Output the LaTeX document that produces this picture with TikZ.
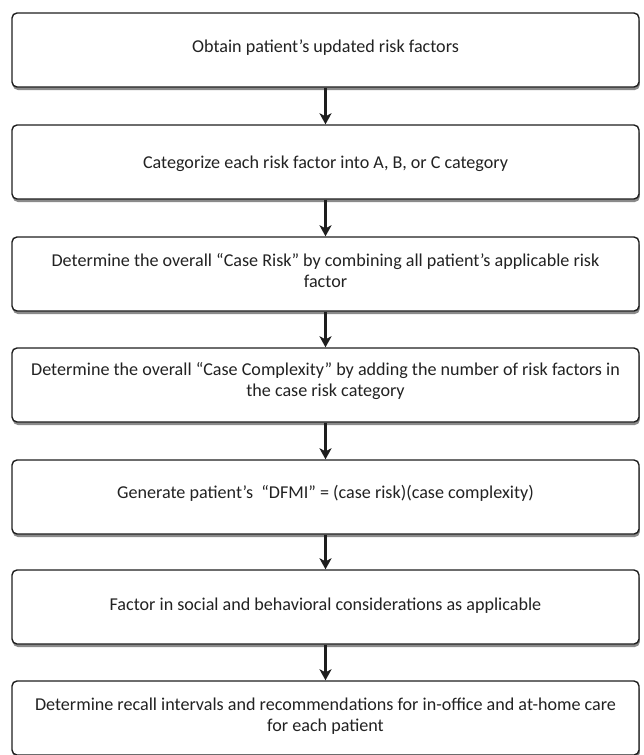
\documentclass[tikz,border=0pt]{standalone}
\usepackage{fontspec}
\setmainfont{Carlito}
\usetikzlibrary{arrows.meta,shadows}
\definecolor{txt}{HTML}{222222}
\definecolor{edge}{HTML}{1E1E1E}
\definecolor{shade}{HTML}{8A8A8A}
\begin{document}
\begin{tikzpicture}[x=1pt,y=-1pt,
  box/.style={draw=edge, line width=1.4pt, rounded corners=5pt, fill=white,
    minimum width=627pt, minimum height=74pt, inner sep=0pt,
    drop shadow={shadow xshift=0.8pt, shadow yshift=-3pt, fill=shade, opacity=1}},
  lbl/.style={text=txt, font=\fontsize{18.1}{21.5}\selectfont, align=center, inner sep=0pt},
  arr/.style={draw=edge, line width=2.6pt, -{Stealth[length=11pt,width=12pt,inset=3pt]}}]
\useasboundingbox (0,0) rectangle (643,755);
\node[box] (b1) at (325.5,50) {};
\node[box] (b2) at (325.5,162) {};
\node[box] (b3) at (325.5,274) {};
\node[box] (b4) at (325.5,385) {};
\node[box] (b5) at (325.5,497) {};
\node[box] (b6) at (325.5,607) {};
\node[box] (b7) at (325.5,718) {};
\node[lbl] (t1) at (325.5,47.5) {Obtain patient’s updated risk factors};
\node[lbl] (t2) at (325.5,164) {Categorize each risk factor into A, B, or C category};
\node[lbl] (t3) at (325.5,270.5) {Determine the overall “Case Risk” by combining all patient’s applicable risk\\factor};
\node[lbl] (t4) at (325.5,381) {Determine the overall “Case Complexity” by adding the number of risk factors in\\the case risk category};
\node[lbl] (t5) at (325.5,493.5) {Generate patient’s\ \ “DFMI” = (case risk)(case complexity)};
\node[lbl] (t6) at (325.5,605.5) {Factor in social and behavioral considerations as applicable};
\node[lbl] (t7) at (325.5,716) {Determine recall intervals and recommendations for in-office and at-home care\\for each patient};
\draw[arr] (b1.south) -- (b2.north);
\draw[arr] (b2.south) -- (b3.north);
\draw[arr] (b3.south) -- (b4.north);
\draw[arr] (b4.south) -- (b5.north);
\draw[arr] (b5.south) -- (b6.north);
\draw[arr] (b6.south) -- (b7.north);
\end{tikzpicture}
\end{document}
